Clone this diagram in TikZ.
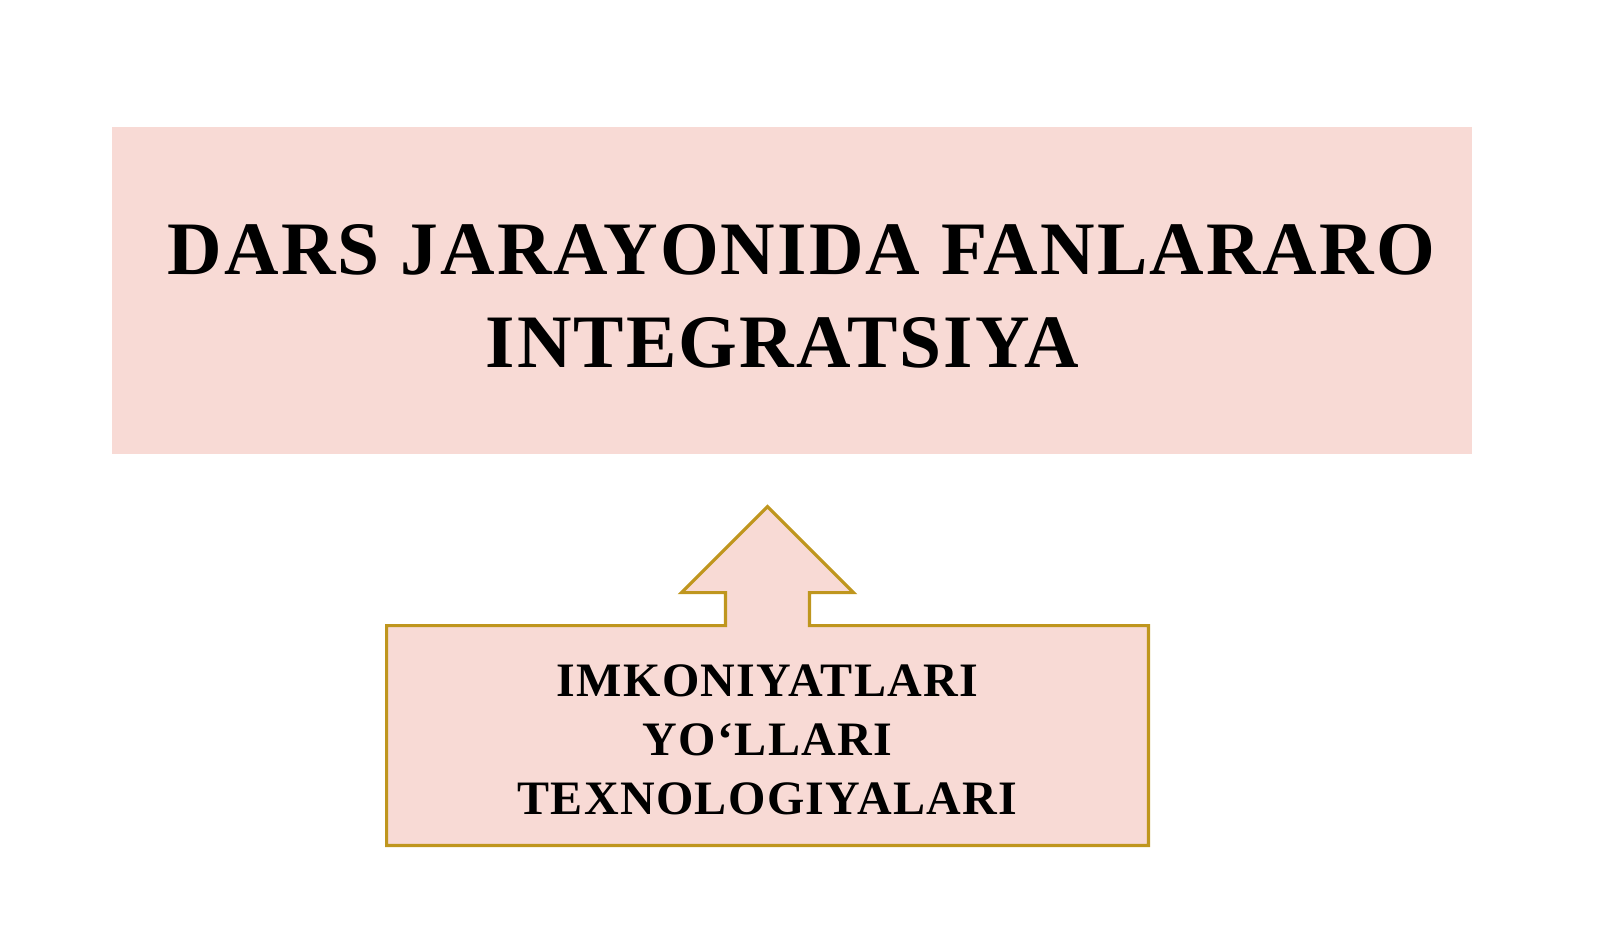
\documentclass[tikz,border=0pt]{standalone}
\usepackage{fontspec}
\setmainfont{Liberation Serif}[LetterSpace=2.8]
\definecolor{boxpink}{RGB}{248,218,213}
\definecolor{gold}{RGB}{191,150,30}
\tikzset{
  titlebox/.style={fill=boxpink, minimum width=680pt, minimum height=163.5pt, inner sep=0pt},
  titletext/.style={align=center, inner sep=0pt, font=\fontsize{37.75}{46.5}\selectfont\bfseries},
  waysbox/.style={minimum width=380.5pt, minimum height=109.5pt, inner sep=0pt},
  waystext/.style={align=center, inner sep=0pt, font=\fontsize{24}{29.5}\selectfont\bfseries},
  callout/.style={draw=gold, fill=boxpink, line width=1.6pt, line join=miter},
}
\begin{document}
\begin{tikzpicture}[x=0.5pt, y=-0.5pt]
\useasboundingbox (0,0) rectangle (1600,952);
\node[titlebox] (title) at (792,290.5){};
\node[titletext] (titlelabel) at ([yshift=-3pt]title.center){\hspace*{.25em}DARS JARAYONIDA FANLARARO\\INTEGRATSIYA\hspace*{.25em}};
\node[waysbox] (ways) at (767.5,735.5){};
\draw[callout] (ways.south west) -- (ways.north west)
  -- ([xshift=-21pt]ways.north) -- ([xshift=-21pt,yshift=16.5pt]ways.north)
  -- ([xshift=-43pt,yshift=16.5pt]ways.north) -- ([yshift=59.5pt]ways.north)
  -- ([xshift=43pt,yshift=16.5pt]ways.north) -- ([xshift=21pt,yshift=16.5pt]ways.north)
  -- ([xshift=21pt]ways.north) -- (ways.north east) -- (ways.south east) -- cycle;
\node[waystext] (wayslabel) at ([yshift=-2.25pt]ways.center){IMKONIYATLARI\\YO‘LLARI\\TEXNOLOGIYALARI};
\end{tikzpicture}
\end{document}
